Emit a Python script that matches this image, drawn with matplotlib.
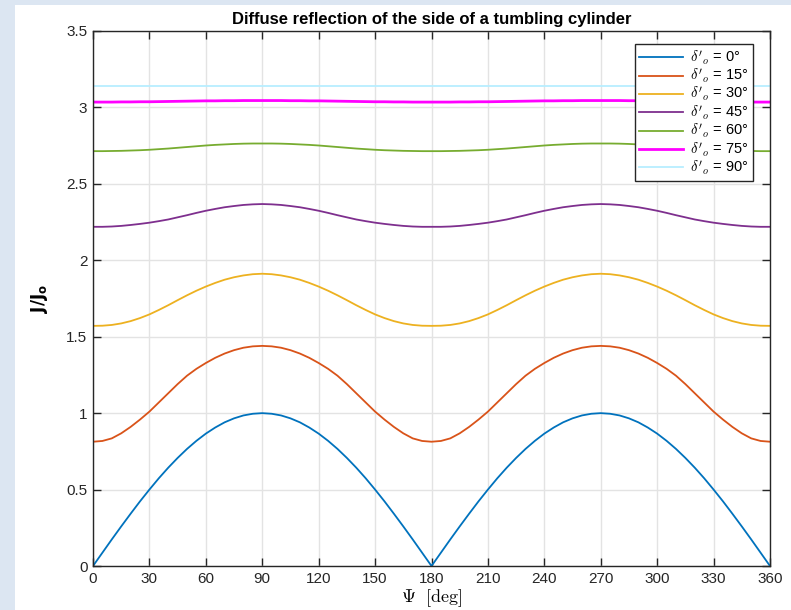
import matplotlib.pyplot as plt
from matplotlib.patches import Rectangle

plt.rcParams['font.family'] = ['Liberation Sans', 'DejaVu Sans']
plt.rcParams['mathtext.fontset'] = 'cm'

# Spin angle samples over one half turn (deg); the pattern repeats every 180 deg
psi_half = list(range(0, 181, 5))
psi = psi_half + [p + 180 for p in psi_half[1:]]

# Normalised intensity J/J0 over 0..180 deg for each aspect angle delta'_o
j_0 = [0.000, 0.087, 0.174, 0.259, 0.342, 0.423, 0.500, 0.574, 0.643, 0.707,
       0.766, 0.819, 0.866, 0.906, 0.940, 0.966, 0.985, 0.996, 1.000,
       0.996, 0.985, 0.966, 0.940, 0.906, 0.866, 0.819, 0.766, 0.707,
       0.643, 0.574, 0.500, 0.423, 0.342, 0.259, 0.174, 0.087, 0.000]
j_15 = [0.813, 0.818, 0.835, 0.868, 0.910, 0.958, 1.010, 1.070, 1.130, 1.190,
        1.245, 1.290, 1.328, 1.362, 1.390, 1.412, 1.428, 1.437, 1.440,
        1.437, 1.428, 1.412, 1.390, 1.362, 1.328, 1.290, 1.245, 1.190,
        1.130, 1.070, 1.010, 0.958, 0.910, 0.868, 0.835, 0.818, 0.813]
j_30 = [1.571, 1.572, 1.577, 1.587, 1.602, 1.622, 1.646, 1.675, 1.706, 1.739,
        1.771, 1.801, 1.828, 1.852, 1.873, 1.889, 1.901, 1.909, 1.912,
        1.909, 1.901, 1.889, 1.873, 1.852, 1.828, 1.801, 1.771, 1.739,
        1.706, 1.675, 1.646, 1.622, 1.602, 1.587, 1.577, 1.572, 1.571]
j_45 = [2.219, 2.219, 2.221, 2.225, 2.231, 2.238, 2.246, 2.256, 2.267, 2.281,
        2.295, 2.310, 2.324, 2.336, 2.347, 2.355, 2.362, 2.366, 2.368,
        2.366, 2.362, 2.355, 2.347, 2.336, 2.324, 2.310, 2.295, 2.281,
        2.267, 2.256, 2.246, 2.238, 2.231, 2.225, 2.221, 2.219, 2.219]
j_60 = [2.714, 2.714, 2.715, 2.716, 2.718, 2.720, 2.723, 2.727, 2.731, 2.736,
        2.741, 2.746, 2.751, 2.755, 2.758, 2.761, 2.763, 2.764, 2.764,
        2.764, 2.763, 2.761, 2.758, 2.755, 2.751, 2.746, 2.741, 2.736,
        2.731, 2.727, 2.723, 2.720, 2.718, 2.716, 2.715, 2.714, 2.714]
j_75 = [3.035, 3.035, 3.035, 3.036, 3.036, 3.037, 3.037, 3.038, 3.039, 3.040,
        3.041, 3.042, 3.043, 3.043, 3.044, 3.044, 3.045, 3.045, 3.045,
        3.045, 3.045, 3.044, 3.044, 3.043, 3.043, 3.042, 3.041, 3.040,
        3.039, 3.038, 3.037, 3.037, 3.036, 3.036, 3.035, 3.035, 3.035]
j_90 = [3.1416] * len(psi_half)

deltas = [0, 15, 30, 45, 60, 75, 90]
series = [j_0, j_15, j_30, j_45, j_60, j_75, j_90]
colors = ['#0072BD', '#D95319', '#EDB120', '#7E2F8E', '#77AC30', '#FF00FF', '#B8EEFF']
widths = [1.3, 1.3, 1.3, 1.3, 1.3, 2.0, 1.3]

fig = plt.figure(figsize=(7.91, 6.10), dpi=100)
fig.patch.set_facecolor('white')

# light blue frame strips on the left and top of the window
fig.patches.append(Rectangle((0, 0), 15 / 791, 1, transform=fig.transFigure,
                             facecolor='#dce6f2', edgecolor='none', zorder=-10))
fig.patches.append(Rectangle((0, 1 - 5 / 610), 1, 5 / 610, transform=fig.transFigure,
                             facecolor='#dce6f2', edgecolor='none', zorder=-10))

ax = fig.add_axes([93 / 791, 1 - 566 / 610, 677 / 791, 535 / 610])

for d, half, c, lw in zip(deltas, series, colors, widths):
    y = half + half[1:]
    ax.plot(psi, y, color=c, lw=lw, label=r"$\delta'_o$ = %d°" % d)

ax.set_xlim(0, 360)
ax.set_ylim(0, 3.5)
ax.set_xticks(range(0, 361, 30))
ax.set_yticks([0, 0.5, 1, 1.5, 2, 2.5, 3, 3.5])
ax.set_yticklabels(['0', '0.5', '1', '1.5', '2', '2.5', '3', '3.5'])
ax.grid(True, color='#e3e3e3', lw=1.0)
ax.set_axisbelow(True)

ax.tick_params(direction='in', top=True, right=True, length=6, width=1.0,
               labelsize=11, colors='#262626', pad=4)
for s in ax.spines.values():
    s.set_color('#262626')
    s.set_linewidth(1.0)

ax.set_title('Diffuse reflection of the side of a tumbling cylinder',
             fontsize=12, fontweight='bold', pad=5)
ax.set_xlabel(r'$\Psi\ \ [\mathrm{deg}]$', fontsize=13, labelpad=1)
ax.set_ylabel(r'$\mathbf{J/J_o}$', fontsize=12, labelpad=12,
              math_fontfamily='dejavusans')

leg = ax.legend(loc='upper right', bbox_to_anchor=(0.975, 0.9757), fontsize=10.5,
                fancybox=False, framealpha=1, edgecolor='#262626',
                handlelength=3.0, handletextpad=0.5, labelspacing=0.0,
                borderpad=0.3, borderaxespad=0)
leg.get_frame().set_linewidth(1.0)

fig.savefig('out.png', dpi=100)
